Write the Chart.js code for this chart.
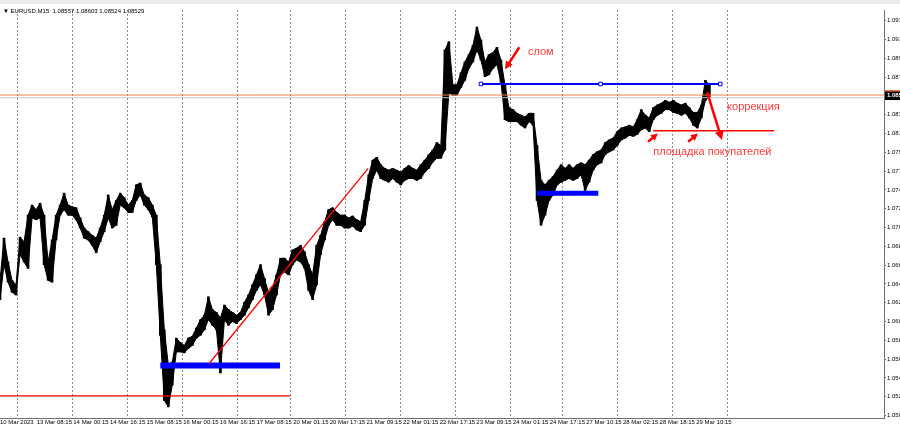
<!DOCTYPE html>
<html>
<head>
<meta charset="utf-8">
<script src="https://cdn.jsdelivr.net/npm/chart.js@4.4.0/dist/chart.umd.min.js"></script>
<style>
  html, body { margin: 0; padding: 0; background: #fff; }
  #wrap { width: 900px; height: 429px; }
</style>
</head>
<body>
<div id="wrap"><canvas id="eurusd" width="900" height="429"></canvas></div>
<script>
// EURUSD M15 - one column per 7 bars (1h45m), high / low of each column
const STEP = 7;
const highs = [
  1.0651,1.0697,1.0671,1.0651,1.0646,1.0698,1.0693,1.0722,1.0733,1.0728,
  1.0735,1.0722,1.0671,1.0695,1.0722,1.0733,1.0746,1.0733,1.0731,1.0730,
  1.0719,1.0708,1.0704,1.0700,1.0697,1.0708,1.0722,1.0744,1.0728,1.0738,
  1.0746,1.0741,1.0733,1.0738,1.0755,1.0757,1.0744,1.0741,1.0733,1.0722,
  1.0668,1.0597,1.0559,1.0562,1.0588,1.0583,1.0580,1.0588,1.0590,1.0599,
  1.0608,1.0613,1.0633,1.0619,1.0616,1.0610,1.0624,1.0619,1.0616,1.0613,
  1.0616,1.0627,1.0635,1.0646,1.0657,1.0668,1.0653,1.0637,1.0643,1.0657,
  1.0675,1.0675,1.0671,1.0684,1.0686,1.0689,1.0682,1.0668,1.0657,1.0689,
  1.0700,1.0715,1.0728,1.0730,1.0725,1.0722,1.0722,1.0719,1.0721,1.0717,
  1.0715,1.0738,1.0766,1.0782,1.0785,1.0777,1.0773,1.0771,1.0773,1.0771,
  1.0769,1.0773,1.0776,1.0773,1.0771,1.0777,1.0782,1.0788,1.0793,1.0801,
  1.0798,1.0902,1.0911,1.0864,1.0864,1.0877,1.0889,1.0897,1.0907,1.0927,
  1.0913,1.0889,1.0897,1.0899,1.0905,1.0891,1.0864,1.0839,1.0837,1.0833,
  1.0831,1.0829,1.0833,1.0833,1.0798,1.0760,1.0755,1.0760,1.0764,1.0771,
  1.0777,1.0773,1.0777,1.0773,1.0777,1.0779,1.0777,1.0782,1.0788,1.0791,
  1.0793,1.0801,1.0804,1.0806,1.0813,1.0817,1.0818,1.0820,1.0818,1.0826,
  1.0837,1.0831,1.0828,1.0839,1.0842,1.0844,1.0847,1.0845,1.0847,1.0844,
  1.0842,1.0844,1.0839,1.0834,1.0834,1.0842,1.0869,1.0864
];
const lows = [
  1.0630,1.0668,1.0649,1.0638,1.0635,1.0679,1.0671,1.0664,1.0719,1.0717,
  1.0719,1.0668,1.0651,1.0649,1.0695,1.0722,1.0728,1.0722,1.0722,1.0717,
  1.0708,1.0697,1.0695,1.0689,1.0681,1.0693,1.0704,1.0719,1.0708,1.0711,
  1.0733,1.0730,1.0725,1.0725,1.0738,1.0744,1.0733,1.0728,1.0720,1.0668,
  1.0591,1.0520,1.0513,1.0537,1.0573,1.0573,1.0572,1.0577,1.0580,1.0588,
  1.0591,1.0597,1.0608,1.0602,1.0597,1.0550,1.0608,1.0602,1.0606,1.0604,
  1.0608,1.0613,1.0621,1.0630,1.0640,1.0646,1.0635,1.0613,1.0619,1.0635,
  1.0657,1.0660,1.0657,1.0668,1.0673,1.0671,1.0664,1.0640,1.0630,1.0646,
  1.0679,1.0695,1.0711,1.0717,1.0711,1.0711,1.0708,1.0708,1.0710,1.0706,
  1.0704,1.0711,1.0738,1.0762,1.0771,1.0762,1.0760,1.0758,1.0762,1.0758,
  1.0755,1.0760,1.0762,1.0762,1.0760,1.0762,1.0769,1.0773,1.0780,1.0784,
  1.0784,1.0793,1.0855,1.0853,1.0853,1.0861,1.0869,1.0882,1.0889,1.0902,
  1.0891,1.0873,1.0875,1.0882,1.0886,1.0867,1.0826,1.0824,1.0824,1.0824,
  1.0820,1.0817,1.0824,1.0820,1.0738,1.0711,1.0722,1.0738,1.0744,1.0755,
  1.0758,1.0760,1.0762,1.0760,1.0762,1.0766,1.0749,1.0758,1.0771,1.0777,
  1.0779,1.0788,1.0791,1.0793,1.0798,1.0804,1.0806,1.0809,1.0808,1.0810,
  1.0815,1.0817,1.0813,1.0826,1.0831,1.0833,1.0837,1.0837,1.0834,1.0833,
  1.0831,1.0833,1.0828,1.0820,1.0817,1.0828,1.0847,1.0851
];

// time axis (bar numbers)
const xLabelBars = [0, 64, 128, 192, 256, 320, 384, 448, 512, 576, 640, 704, 768, 832, 896, 960, 1024, 1088, 1152, 1216];
const xLabels = ['10 Mar 2023', '13 Mar 08:15', '14 Mar 00:15', '14 Mar 16:15', '15 Mar 08:15', '16 Mar 00:15',
  '16 Mar 16:15', '17 Mar 08:15', '20 Mar 01:15', '20 Mar 17:15', '21 Mar 09:15', '22 Mar 01:15', '22 Mar 17:15',
  '23 Mar 09:15', '24 Mar 01:15', '24 Mar 17:15', '27 Mar 10:15', '28 Mar 02:15', '28 Mar 18:15', '29 Mar 10:15'];
const dayBars = [31, 127, 223, 319, 415, 507, 603, 699, 795, 891, 983, 1079, 1175, 1271];
const yTicks = [1.05035, 1.05240, 1.05445, 1.05650, 1.05855, 1.06060, 1.06265, 1.06470, 1.06675, 1.06880, 1.07085,
  1.07290, 1.07495, 1.07700, 1.07905, 1.08110, 1.08315, 1.08520, 1.08725, 1.08930, 1.09135, 1.09340];

const symbol = 'EURUSD,M15';
const ohlc = [1.08557, 1.08603, 1.08524, 1.08529];
const bid = 1.08529;

// hand drawn objects: [bar, price]
const bidLine = [[0, bid], [1544, bid]];
const greyLine = [[0, 1.0850], [1544, 1.0850]];
const supportLow = [[0, 1.0525], [507, 1.0525]];
const buyZone1 = [[280, 1.0558], [489, 1.0558]];
const trendLine = [[365, 1.0560], [643, 1.0773]];
const breakLevel = [[840, 1.0865], [1049, 1.0865], [1258, 1.0865]];
const buyZone2 = [[938, 1.0746], [1045, 1.0746]];
const buyersLevel = [[1141, 1.0814], [1352, 1.0814]];
const arrows = [
  { from: [907, 1.0905], to: [882, 1.0881], w: 2.5, head: 8 },
  { from: [1132, 1.0802], to: [1149, 1.0811], w: 2.5, head: 7 },
  { from: [1202, 1.0802], to: [1219, 1.0811], w: 2.5, head: 7 },
  { from: [1235, 1.0856], to: [1261, 1.0804], w: 2.5, head: 9 }
];
const notes = [
  { text: 'слом', at: [922, 1.0900] },
  { text: 'коррекция', at: [1270, 1.0840] },
  { text: 'площадка покупателей', at: [1141, 1.0791] }
];

const pts = arr => arr.map(([x, y]) => ({ x: x, y: y }));
const candles = highs.map((h, i) => ({ x: i * STEP, y: [lows[i], h] }));
const highPath = highs.map((h, i) => ({ x: i * STEP, y: h }));
const lowPath = lows.map((l, i) => ({ x: i * STEP, y: l }));

function line(data, color, width, extra) {
  return Object.assign({
    type: 'line', data: pts(data), borderColor: color, borderWidth: width,
    pointRadius: 0, fill: false, order: 1
  }, extra || {});
}

function drawArrow(ctx, x1, y1, x2, y2, w, head) {
  const a = Math.atan2(y2 - y1, x2 - x1);
  const c = Math.cos(a), s = Math.sin(a);
  ctx.lineWidth = w;
  ctx.beginPath();
  ctx.moveTo(x1, y1);
  ctx.lineTo(x2 - head * 0.7 * c, y2 - head * 0.7 * s);
  ctx.stroke();
  ctx.beginPath();
  ctx.moveTo(x2, y2);
  ctx.lineTo(x2 - head * c + head * 0.5 * s, y2 - head * s - head * 0.5 * c);
  ctx.lineTo(x2 - head * c - head * 0.5 * s, y2 - head * s + head * 0.5 * c);
  ctx.closePath();
  ctx.fill();
}

const terminal = {
  id: 'terminal',
  beforeDraw(chart) {
    const ctx = chart.ctx;
    ctx.save();
    ctx.fillStyle = '#fff';
    ctx.fillRect(0, 0, chart.width, chart.height);
    ctx.fillStyle = '#ececec';
    ctx.fillRect(0, 0, chart.width, 4);
    ctx.restore();
  },
  afterDatasetsDraw(chart) {
    const { ctx, scales: { x, y } } = chart;
    ctx.save();
    ctx.strokeStyle = '#ff0000';
    ctx.fillStyle = '#ff0000';
    arrows.forEach(a => drawArrow(ctx,
      x.getPixelForValue(a.from[0]), y.getPixelForValue(a.from[1]),
      x.getPixelForValue(a.to[0]), y.getPixelForValue(a.to[1]), a.w, a.head));
    ctx.fillStyle = '#ff3b3b';
    ctx.font = '11px "Liberation Sans", Arial, sans-serif';
    ctx.textBaseline = 'middle';
    ctx.textAlign = 'left';
    notes.forEach(n => ctx.fillText(n.text, x.getPixelForValue(n.at[0]), y.getPixelForValue(n.at[1])));
    ctx.restore();
  },
  afterDraw(chart) {
    const { ctx, scales: { y }, chartArea } = chart;
    ctx.save();
    ctx.fillStyle = '#000';
    ctx.font = '6px "Liberation Sans", Arial, sans-serif';
    ctx.textBaseline = 'middle';
    ctx.fillText('\u25BC ' + symbol + '  ' + ohlc.map(v => v.toFixed(5)).join(' '), 3, 11);
    const py = y.getPixelForValue(bid);
    ctx.fillStyle = '#000';
    ctx.fillRect(chartArea.right + 1, py - 4, 20, 9);
    ctx.fillStyle = '#f07040';
    ctx.fillRect(chartArea.right + 1, py - 5, 20, 1.5);
    ctx.fillStyle = '#fff';
    ctx.font = 'bold 6px "Liberation Sans", Arial, sans-serif';
    ctx.fillText(bid.toFixed(5), chartArea.right + 3, py + 0.5);
    ctx.restore();
  }
};

new Chart(document.getElementById('eurusd'), {
  type: 'bar',
  data: {
    datasets: [
      line(bidLine, '#f08050', 1),
      line(greyLine, '#c8c8c8', 1),
      line(supportLow, '#ff0000', 1.3),
      line(trendLine, '#ff0000', 1.3),
      line(buyersLevel, '#ff0000', 1.3),
      line(buyZone1, '#0000ff', 6),
      line(buyZone2, '#0000ff', 5),
      line(breakLevel, '#0000ff', 2, {
        pointRadius: 2.5, pointStyle: 'rect', pointBackgroundColor: '#fff',
        pointBorderColor: '#0000ff', pointBorderWidth: 1
      }),
      {
        type: 'line', data: highPath, borderColor: '#000', borderWidth: 1,
        pointRadius: 0, tension: 0, fill: false, order: 9
      },
      {
        type: 'line', data: lowPath, borderColor: '#000', borderWidth: 1,
        pointRadius: 0, tension: 0, fill: '-1', backgroundColor: '#000', order: 9
      },
      {
        type: 'bar', data: candles, backgroundColor: '#000', barThickness: 2,
        borderWidth: 0, order: 10
      }
    ]
  },
  options: {
    responsive: false,
    animation: false,
    devicePixelRatio: 1,
    layout: { autoPadding: false, padding: { top: 10, left: 0, right: 0, bottom: 0 } },
    plugins: { legend: { display: false }, tooltip: { enabled: false } },
    scales: {
      x: {
        type: 'linear', min: 0, max: 1544, offset: false,
        afterBuildTicks: s => {
          s.ticks = xLabelBars.concat(dayBars).sort((a, b) => a - b).map(v => ({ value: v }));
        },
        afterFit: s => { s.height = 11; s.paddingLeft = 0; s.paddingRight = 0; },
        ticks: {
          autoSkip: false, maxRotation: 0, align: 'start', padding: 1, color: '#000',
          font: { family: 'Liberation Sans', size: 6 },
          callback: v => { const i = xLabelBars.indexOf(v); return i < 0 ? '' : xLabels[i]; }
        },
        grid: {
          offset: false, drawTicks: false, lineWidth: 1,
          color: c => (c.tick && dayBars.includes(c.tick.value)) ? '#8a8a8a' : 'rgba(0,0,0,0)'
        },
        border: { color: '#707070', dash: [2, 2] }
      },
      y: {
        position: 'right', min: 1.05009, max: 1.09456,
        afterBuildTicks: s => { s.ticks = yTicks.map(v => ({ value: v })); },
        afterFit: s => { s.width = 16; s.paddingTop = 0; s.paddingBottom = 0; },
        ticks: {
          autoSkip: false, padding: 1, color: '#000',
          font: { family: 'Liberation Sans', size: 6 },
          callback: v => v.toFixed(5)
        },
        grid: { drawOnChartArea: false, tickLength: 2, color: '#707070' },
        border: { color: '#707070' }
      }
    }
  },
  plugins: [terminal]
});
</script>
</body>
</html>
